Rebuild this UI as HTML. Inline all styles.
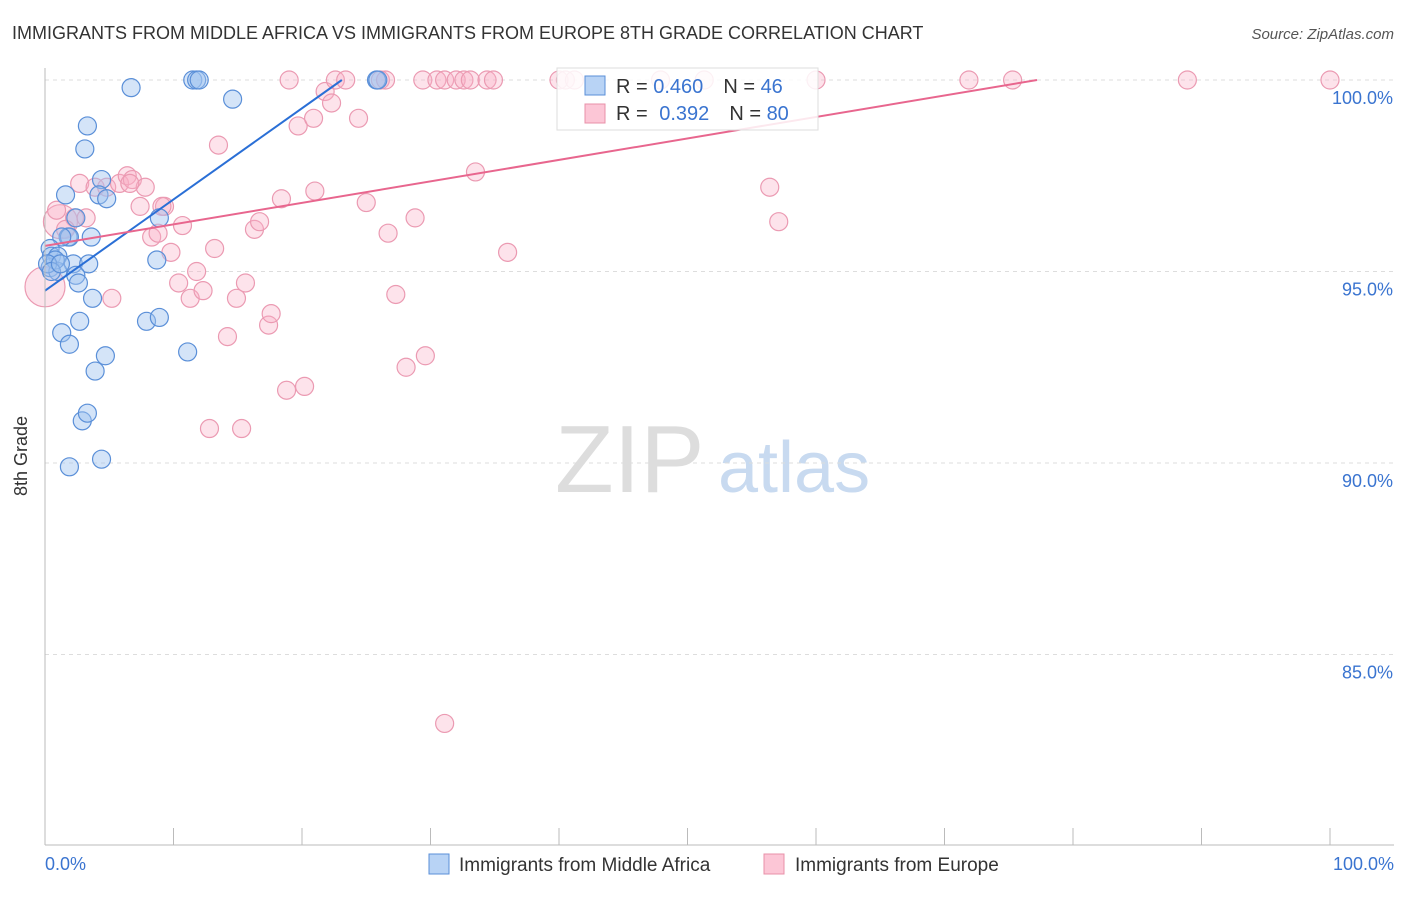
<!DOCTYPE html>
<html><head><meta charset="utf-8"><style>
body{margin:0;background:#fff;font-family:"Liberation Sans",sans-serif}
svg text{font-family:"Liberation Sans",sans-serif}
</style></head><body>
<svg id="c" width="1406" height="892">
<text x="12" y="39" font-size="18" fill="#333">IMMIGRANTS FROM MIDDLE AFRICA VS IMMIGRANTS FROM EUROPE 8TH GRADE CORRELATION CHART</text>
<text x="1394" y="39" font-size="15" fill="#555" text-anchor="end" font-style="italic">Source: ZipAtlas.com</text>
<text x="555" y="492" font-size="96" fill="#ddd" font-family="Liberation Serif">ZIP</text>
<text x="718" y="492" font-size="72" fill="#c8daf0">atlas</text>
<g id="grid"></g><g id="pts"></g><g id="lines"></g>
<line x1="45" y1="68" x2="45" y2="845" stroke="#bbb"/>
<line x1="45" y1="845" x2="1394" y2="845" stroke="#bbb"/>
<text x="27" y="456" font-size="18" fill="#333" text-anchor="middle" transform="rotate(-90 27 456)">8th Grade</text>
<text x="45" y="870" font-size="18" fill="#3a74d0">0.0%</text>
<text x="1394" y="870" font-size="18" fill="#3a74d0" text-anchor="end">100.0%</text>
<g>
<rect x="557" y="68" width="261" height="62" fill="#fff" fill-opacity="0.85" stroke="#ddd"/>
<rect x="585" y="76" width="20" height="19" fill="#b8d3f5" stroke="#5a8fd8"/>
<rect x="585" y="104" width="20" height="19" fill="#fcc6d6" stroke="#e890a8"/>
<text x="616" y="93" font-size="20" fill="#333">R = <tspan fill="#3a74d0">0.460</tspan><tspan dx="20">N = </tspan><tspan fill="#3a74d0">46</tspan></text>
<text x="616" y="120" font-size="20" fill="#333">R = <tspan fill="#3a74d0" dx="6">0.392</tspan><tspan dx="20">N = </tspan><tspan fill="#3a74d0">80</tspan></text>
</g>
<g>
<rect x="429" y="854" width="20" height="20" fill="#b8d3f5" stroke="#5a8fd8"/>
<text x="459" y="871" font-size="19" fill="#333">Immigrants from Middle Africa</text>
<rect x="764" y="854" width="20" height="20" fill="#fcc6d6" stroke="#e890a8"/>
<text x="795" y="871" font-size="19" fill="#333">Immigrants from Europe</text>
</g>
</svg>
<script>
const yTicks=[100,95,90,85];
const yTickLabels=["100.0%","95.0%","90.0%","85.0%"];
const xTicks=[0,10,20,30,40,50,60,70,80,90,100];
const blueX=[6.7,11.5,11.8,12.0,25.8,25.9,14.6,3.3,3.1,1.6,4.4,4.2,4.8,8.9,2.4,1.8,1.9,3.6,1.3,0.4,0.5,1.0,2.2,3.4,8.7,0.4,1.0,2.4,2.6,3.7,2.7,7.9,8.9,1.3,1.9,4.7,11.1,3.9,2.9,3.3,1.9,4.4,0.8,0.2,0.5,1.2];
const blueY=[99.8,100,100,100,100,100,99.5,98.8,98.2,97.0,97.4,97.0,96.9,96.4,96.4,95.9,95.9,95.9,95.9,95.6,95.4,95.4,95.2,95.2,95.3,95.1,95.0,94.9,94.7,94.3,93.7,93.7,93.8,93.4,93.1,92.8,92.9,92.4,91.1,91.3,89.9,90.1,95.3,95.2,95.0,95.2];
const pinkX=[0.0,1.2,2.7,3.9,4.8,5.8,6.4,6.8,7.8,9.3,8.3,8.8,7.4,10.7,9.8,13.2,11.8,10.4,11.3,12.3,14.9,15.6,5.2,14.2,17.4,17.6,16.3,16.7,18.4,21.0,19.7,20.9,21.8,22.3,24.4,13.5,19.0,22.6,23.4,26.1,26.5,29.4,30.5,31.1,32.0,32.6,33.1,34.4,34.9,40.0,40.5,41.2,47.9,51.3,60.0,71.9,75.3,88.9,100,25.0,26.7,28.8,27.3,28.1,29.6,33.5,36.0,18.8,20.2,12.8,15.3,31.1,56.4,57.1,0.9,2.3,3.2,1.6,6.6,9.1];
const pinkY=[94.6,96.3,97.3,97.2,97.2,97.3,97.5,97.4,97.2,96.7,95.9,96.0,96.7,96.2,95.5,95.6,95.0,94.7,94.3,94.5,94.3,94.7,94.3,93.3,93.6,93.9,96.1,96.3,96.9,97.1,98.8,99.0,99.7,99.4,99.0,98.3,100,100,100,100,100,100,100,100,100,100,100,100,100,100,100,100,100,100,100,100,100,100,100,96.8,96.0,96.4,94.4,92.5,92.8,97.6,95.5,91.9,92.0,90.9,90.9,83.2,97.2,96.3,96.6,96.4,96.4,96.1,97.3,96.7];
const pinkR=[20,17];
const blueTrend=[[0,94.5],[23.1,100]];
const pinkTrend=[[0,95.67],[77.2,100]];
const X=v=>45+v*12.85, Y=v=>80+(100-v)*38.3;
const NS="http://www.w3.org/2000/svg";
const mk=(p,t,a)=>{const e=document.createElementNS(NS,t);for(const k in a)e.setAttribute(k,a[k]);p.appendChild(e);return e;};
const grid=document.getElementById('grid'),pts=document.getElementById('pts'),lines=document.getElementById('lines');
yTicks.forEach((v,i)=>{
 const l=mk(grid,'line',{x1:45,x2:1394,y1:Y(v),y2:Y(v),stroke:'#ddd','stroke-dasharray':'4 4'});
 
 
 const t=mk(grid,'text',{x:1393,y:Y(v)+24,'font-size':18,fill:'#3a74d0','text-anchor':'end'});
 t.textContent=yTickLabels[i];
 
 
});
xTicks.forEach(v=>{
 const l=mk(grid,'line',{x1:X(v),x2:X(v),y1:828,y2:845,stroke:'#bbb'});
 
 
});
pinkX.forEach((x,i)=>{
 const c=mk(pts,'circle',{cx:X(x),cy:Y(pinkY[i]),r:pinkR[i]||9,fill:'rgba(248,175,198,0.35)',stroke:'#eb9ab2','stroke-width':1.2});
 
 
});
blueX.forEach((x,i)=>{
 const c=mk(pts,'circle',{cx:X(x),cy:Y(blueY[i]),r:9,fill:'rgba(160,196,240,0.45)',stroke:'#5a8fd8','stroke-width':1.2});
 
 
});
const bl=mk(lines,'line',{x1:X(blueTrend[0][0]),y1:Y(blueTrend[0][1]),x2:X(blueTrend[1][0]),y2:Y(blueTrend[1][1]),stroke:'#2a6fd6','stroke-width':2});


const pl=mk(lines,'line',{x1:X(pinkTrend[0][0]),y1:Y(pinkTrend[0][1]),x2:X(pinkTrend[1][0]),y2:Y(pinkTrend[1][1]),stroke:'#e8668e','stroke-width':2});


</script>
</body></html>
